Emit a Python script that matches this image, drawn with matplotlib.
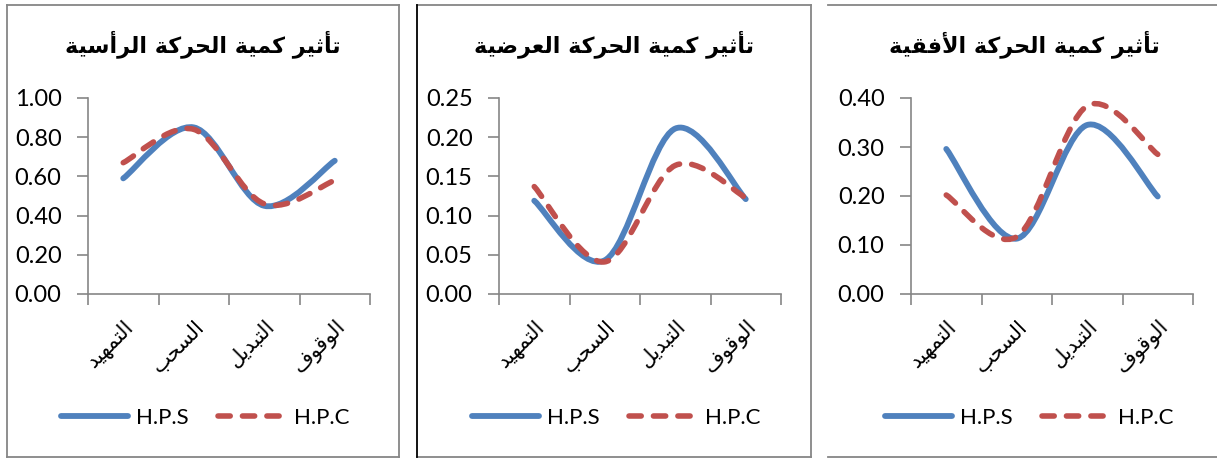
import matplotlib
matplotlib.use('Agg')
from matplotlib import pyplot as plt
from matplotlib.path import Path
from matplotlib.patches import PathPatch
from matplotlib.lines import Line2D

# data
categories = ['التمهيد', 'السحب', 'التبديل', 'الوقوف']
titles = ['تأثير كمية الحركة الرأسية', 'تأثير كمية الحركة العرضية', 'تأثير كمية الحركة الأفقية']
series_names = ['H.P.S', 'H.P.C']

hps_vertical = [0.59, 0.85, 0.45, 0.68]
hpc_vertical = [0.67, 0.84, 0.46, 0.58]
hps_transverse = [0.119, 0.043, 0.211, 0.121]
hpc_transverse = [0.137, 0.041, 0.164, 0.123]
hps_horizontal = [0.296, 0.113, 0.345, 0.199]
hpc_horizontal = [0.202, 0.117, 0.384, 0.285]

y_max = [1.0, 0.25, 0.40]
y_step = [0.2, 0.05, 0.1]

BLUE = '#4F81BD'
RED = '#C0504D'
GREY = '#868686'
DASH = (0, (2.2, 2.2))

# --- minimal Arabic shaping (matplotlib has no complex text layout) ---
# char: (isolated, final, initial, medial)
FORMS = {
    'ا': (0xFE8D, 0xFE8E, None, None),
    'أ': (0xFE83, 0xFE84, None, None),
    'ب': (0xFE8F, 0xFE90, 0xFE91, 0xFE92),
    'ة': (0xFE93, 0xFE94, None, None),
    'ت': (0xFE95, 0xFE96, 0xFE97, 0xFE98),
    'ث': (0xFE99, 0xFE9A, 0xFE9B, 0xFE9C),
    'ح': (0xFEA1, 0xFEA2, 0xFEA3, 0xFEA4),
    'د': (0xFEA9, 0xFEAA, None, None),
    'ر': (0xFEAD, 0xFEAE, None, None),
    'س': (0xFEB1, 0xFEB2, 0xFEB3, 0xFEB4),
    'ض': (0xFEBD, 0xFEBE, 0xFEBF, 0xFEC0),
    'ع': (0xFEC9, 0xFECA, 0xFECB, 0xFECC),
    'ف': (0xFED1, 0xFED2, 0xFED3, 0xFED4),
    'ق': (0xFED5, 0xFED6, 0xFED7, 0xFED8),
    'ك': (0xFED9, 0xFEDA, 0xFEDB, 0xFEDC),
    'ل': (0xFEDD, 0xFEDE, 0xFEDF, 0xFEE0),
    'م': (0xFEE1, 0xFEE2, 0xFEE3, 0xFEE4),
    'ه': (0xFEE9, 0xFEEA, 0xFEEB, 0xFEEC),
    'و': (0xFEED, 0xFEEE, None, None),
    'ي': (0xFEF1, 0xFEF2, 0xFEF3, 0xFEF4),
}
LAM_ALEF = {'ا': (0xFEFB, 0xFEFC), 'أ': (0xFEF7, 0xFEF8)}


def shape(text):
    out = []
    n = len(text)
    i = 0
    while i < n:
        c = text[i]
        if c not in FORMS:
            out.append(c)
            i += 1
            continue
        prev = text[i - 1] if i > 0 else None
        jp = prev in FORMS and FORMS[prev][2] is not None
        if c == 'ل' and i + 1 < n and text[i + 1] in LAM_ALEF:
            iso, fin = LAM_ALEF[text[i + 1]]
            out.append(chr(fin if jp else iso))
            i += 2
            continue
        nxt = text[i + 1] if i + 1 < n else None
        iso, fin, ini, med = FORMS[c]
        jn = ini is not None and nxt in FORMS
        if jp and jn:
            f = med
        elif jp:
            f = fin
        elif jn:
            f = ini
        else:
            f = iso
        out.append(chr(f))
        i += 1
    return ''.join(reversed(out))


def smooth_path(xs, ys):
    # Excel style smoothed line: cubic Bezier through each point
    pts = list(zip(xs, ys))
    verts = [pts[0]]
    codes = [Path.MOVETO]
    for i in range(len(pts) - 1):
        p0 = pts[i - 1] if i > 0 else pts[i]
        p1 = pts[i]
        p2 = pts[i + 1]
        p3 = pts[i + 2] if i + 2 < len(pts) else pts[i + 1]
        c1 = (p1[0] + (p2[0] - p0[0]) / 6, p1[1] + (p2[1] - p0[1]) / 6)
        c2 = (p2[0] - (p3[0] - p1[0]) / 6, p2[1] - (p3[1] - p1[1]) / 6)
        verts += [c1, c2, p2]
        codes += [Path.CURVE4] * 3
    return Path(verts, codes)


W, H = 1217, 459
fig = plt.figure(figsize=(W / 100, H / 100), dpi=100)

axes_left = [88, 499, 911]
panel_centers = [203, 614, 1024]
legend_centers = [205, 616, 1029]
panel_data = [(hps_vertical, hpc_vertical), (hps_transverse, hpc_transverse),
              (hps_horizontal, hpc_horizontal)]

tick_font = 'Lato'

for k in range(3):
    ax = fig.add_axes([axes_left[k] / W, 1 - 294 / H, 282 / W, 196 / H])
    hps, hpc = panel_data[k]
    xs = list(range(len(categories)))
    ax.add_patch(PathPatch(smooth_path(xs, hps), fill=False, edgecolor=BLUE,
                           lw=4.2, capstyle='round', joinstyle='round'))
    ax.add_patch(PathPatch(smooth_path(xs, hpc), fill=False, edgecolor=RED,
                           lw=4.0, linestyle=DASH, capstyle='round'))
    ax.set_xlim(-0.5, 3.5)
    ax.set_ylim(0, y_max[k])
    n_ticks = int(round(y_max[k] / y_step[k])) + 1
    ax.set_yticks([j * y_step[k] for j in range(n_ticks)])
    ax.set_yticklabels(['%.2f' % (j * y_step[k]) for j in range(n_ticks)],
                       fontsize=17, family=tick_font)
    ax.set_xticks(xs)
    ax.set_xticklabels([shape(c) for c in categories], rotation=45, ha='right', va='top',
                       rotation_mode='anchor', fontsize=15, family='DejaVu Sans')
    ax.set_xticks([x - 0.5 for x in range(len(categories) + 1)], minor=True)
    ax.tick_params(axis='x', which='major', length=0, pad=16)
    ax.tick_params(axis='x', which='minor', length=8, width=1.2, color=GREY, direction='out')
    ax.tick_params(axis='y', length=8, width=1.2, color=GREY, direction='out', pad=11)
    for s in ['top', 'right']:
        ax.spines[s].set_visible(False)
    for s in ['left', 'bottom']:
        ax.spines[s].set_color(GREY)
        ax.spines[s].set_linewidth(1.2)
    ax.patch.set_alpha(0)

    fig.text(panel_centers[k] / W, 1 - 44 / H, shape(titles[k]), ha='center', va='center',
             fontsize=16, fontweight='bold', family='DejaVu Sans')

    handles = [Line2D([], [], color=BLUE, lw=4.2, solid_capstyle='round'),
               Line2D([], [], color=RED, lw=4.0, linestyle=DASH, dash_capstyle='round')]
    fig.legend(handles, series_names, loc='center', ncol=2, frameon=False,
               bbox_to_anchor=(legend_centers[k] / W, 1 - 418 / H),
               bbox_transform=fig.transFigure, handlelength=3.0, handletextpad=0.4,
               columnspacing=1.3, prop={'family': tick_font, 'size': 16})

# panel frames
def fig_line(x0, y0, x1, y1, color):
    fig.add_artist(Line2D([x0 / W, x1 / W], [1 - y0 / H, 1 - y1 / H], color=color, lw=1.3,
                          transform=fig.transFigure))

fig_line(7, 5, 399, 5, GREY)
fig_line(7, 457, 399, 457, GREY)
fig_line(7, 5, 7, 457, GREY)
fig_line(399, 5, 399, 457, GREY)
fig_line(417, 5, 811, 5, GREY)
fig_line(417, 457, 811, 457, GREY)
fig_line(417, 5, 417, 457, 'black')
fig_line(811, 5, 811, 457, GREY)
fig_line(828, 5, 1217, 5, GREY)
fig_line(828, 457, 1217, 457, GREY)

fig.savefig('out.png', dpi=100)
